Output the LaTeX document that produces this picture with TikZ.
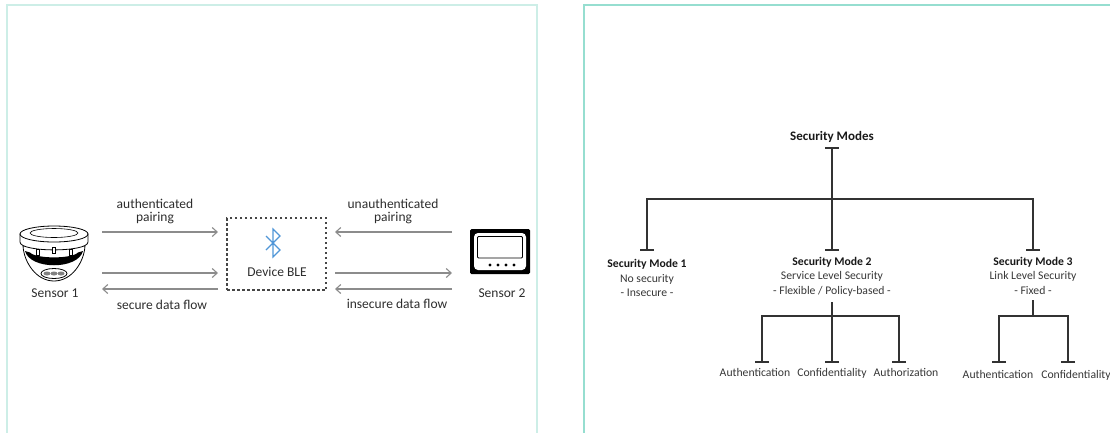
\documentclass[tikz,border=0pt]{standalone}
\usepackage{fontspec}
\setmainfont{Carlito}
\usetikzlibrary{arrows.meta}

\definecolor{framelt}{RGB}{205,238,231}
\definecolor{framedk}{RGB}{150,222,208}
\definecolor{arrowgray}{RGB}{140,140,140}
\definecolor{txt}{RGB}{45,45,45}
\definecolor{darktxt}{RGB}{25,25,25}
\definecolor{subtxt}{RGB}{55,55,55}
\definecolor{treeline}{RGB}{50,50,50}
\definecolor{btblue}{RGB}{80,150,215}
\definecolor{dashgray}{RGB}{70,70,70}

\begin{document}
\begin{tikzpicture}[x=1pt,y=-1pt,
  flow/.style={draw=arrowgray, line width=1.1pt, -{Straight Barb[length=5pt,width=9pt]}},
  lefttext/.style={text=txt, font=\fontsize{13.5}{13}\selectfont, align=center, inner sep=0pt},
  tree/.style={draw=treeline, line width=1.6pt},
  tbars/.style={tree, {Bar[width=14pt]}-{Bar[width=14pt]}},
  tbarend/.style={tree, -{Bar[width=14pt]}},
  modetext/.style={font=\fontsize{11.7}{14.5}\selectfont, text=subtxt, align=center, inner sep=0pt, anchor=north},
  leaftext/.style={font=\fontsize{11.7}{14}\selectfont, text=subtxt, inner sep=0pt, anchor=north},
  iconbox/.style={inner sep=0pt, outer ysep=0pt}
]
\useasboundingbox (0,0) rectangle (1110,432);
\clip (0,0) rectangle (1110,432);

% panel frames
\draw[framelt, line width=1.5pt] (7,440) -- (7,5) -- (537,5) -- (537,440);
\draw[framedk, line width=1.5pt] (584,440) -- (584,5) -- (1115,5);

% ---------------- pairing scheme ----------------
% sensor 1: smoke detector
\node[iconbox, minimum width=70pt, minimum height=56pt, outer xsep=13pt] (s1) at (54,254) {};
\begin{scope}[line width=0.8pt]
  \filldraw[fill=white] (23,246) .. controls (24,262) and (36,281) .. (54,281)
        .. controls (72,281) and (84,262) .. (85,246) -- cycle;
  \filldraw[fill=white] (20,234) -- (20,242) .. controls (20,252.5) and (88,252.5) .. (88,242) -- (88,234) -- cycle;
  \filldraw[fill=white] (54,234) ellipse [x radius=34, y radius=8];
  \draw[line width=0.6pt] (54,233) ellipse [x radius=24, y radius=4.5];
  \fill[black] (25,251) .. controls (30,270) and (78,270) .. (83,251) -- (78,252.5)
        .. controls (72,259) and (36,259) .. (30,252.5) -- cycle;
  \filldraw[fill=white, line width=0.6pt] (36,249.5) rectangle (39,255.5);
  \filldraw[fill=white, line width=0.6pt] (52.5,247) rectangle (55.5,253);
  \filldraw[fill=white, line width=0.6pt] (69,249.5) rectangle (72,255.5);
  \filldraw[fill=white] (54,273.5) ellipse [x radius=13, y radius=5];
  \fill[gray] (47,273.5) ellipse [x radius=3.5, y radius=2];
  \fill[gray] (54,273.5) ellipse [x radius=3.5, y radius=2];
  \fill[gray] (61,273.5) ellipse [x radius=3.5, y radius=2];
\end{scope}
\node[lefttext, anchor=base] (s1lbl) at (55,297) {Sensor 1};

% sensor 2: display unit
\node[iconbox, minimum width=60pt, minimum height=45pt, outer xsep=18pt] (s2) at (500,251.5) {};
\fill[black, rounded corners=1.5pt] (470,229) rectangle (530,274);
\fill[white, rounded corners=4pt] (474,233) rectangle (526,270);
\draw[line width=0.9pt, rounded corners=1pt] (477.5,236.5) rectangle (522.5,258);
\foreach \dx in {490,498,506,514} \fill (\dx,265) circle [radius=1.6];
\node[lefttext, anchor=base] (s2lbl) at (502,297) {Sensor 2};

% BLE device
\node[draw=dashgray, line width=1.1pt, dash pattern=on 2.5pt off 2.5pt,
      minimum width=99pt, minimum height=72pt, inner sep=0pt, outer xsep=9pt] (ble) at (276.5,254) {};
\draw[btblue, line width=1.1pt, line join=miter]
  (266,236) -- (280,250) -- (273,257) -- (273,229) -- (280,236) -- (266,250);
\node[lefttext, anchor=base] (blelbl) at (277,276) {Device BLE};

% flow rows
\coordinate (row1) at (0,232);
\coordinate (row2) at (0,273);
\coordinate (row3) at (0,289);

\draw[flow] (s1.east |- row1) -- (ble.west |- row1);
\draw[flow] (s1.east |- row2) -- (ble.west |- row2);
\draw[flow] (ble.west |- row3) -- (s1.east |- row3);
\draw[flow] (s2.west |- row1) -- (ble.east |- row1);
\draw[flow] (ble.east |- row2) -- (s2.west |- row2);
\draw[flow] (s2.west |- row3) -- (ble.east |- row3);

\node[lefttext] (authlbl) at (155,211) {authenticated\\pairing};
\node[lefttext] (unauthlbl) at (393,211) {unauthenticated\\pairing};
\node[lefttext, anchor=base] (securelbl) at (162,309) {secure data flow};
\node[lefttext, anchor=base] (insecurelbl) at (397,308) {insecure data flow};

% ---------------- security modes tree ----------------
\node[font=\bfseries\fontsize{13}{15}\selectfont, text=darktxt, inner sep=0pt,
      anchor=south, outer ysep=4pt] (title) at (832,147) {Security Modes};

\node[modetext, outer ysep=8.5pt] (m1) at (647,251)
  {\textcolor{darktxt}{\bfseries Security Mode 1}\\No security\\- Insecure -};
\node[modetext, outer ysep=6pt] (m2) at (832,251)
  {\textcolor{darktxt}{\bfseries Security Mode 2}\\Service Level Security\\- Flexible / Policy-based -};
\node[modetext, outer ysep=6pt] (m3) at (1033,251)
  {\textcolor{darktxt}{\bfseries Security Mode 3}\\Link Level Security\\- Fixed -};

\draw[tbars] (title.south) -- (m2.north);
\draw[tbars] (m1.north) -- ++(0,-52) -| (m3.north);

% leaf labels sit a little off their bars
\node[leaftext, outer ysep=5pt] (c2a) at (755,363) {Authentication};
\node[leaftext, outer ysep=5pt] (c2b) at (832,363) {Confidentiality};
\node[leaftext, outer ysep=5pt] (c2c) at (906,363) {Authorization};
\node[leaftext, outer ysep=7.5pt] (c3a) at (998,363) {Authentication};
\node[leaftext, outer ysep=7.5pt] (c3b) at (1076,363) {Confidentiality};

\draw[tbarend] (m2.south) -- (c2b.north);
\draw[tbars] ([xshift=7pt]c2a.north) -- ++(0,-47) -| ([xshift=-7pt]c2c.north);
\draw[tbars] ([xshift=1pt]c3a.north) -- ++(0,-47) coordinate (j3) -| ([xshift=-8pt]c3b.north);
\draw[tree] (m3.south) -- (m3.south |- j3);

\end{tikzpicture}
\end{document}
